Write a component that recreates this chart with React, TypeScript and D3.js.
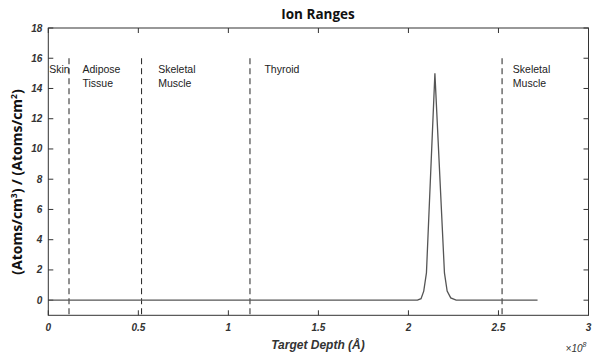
import React from "react";
import * as d3 from "d3";

const depth = [0, 2.05, 2.07, 2.085, 2.1, 2.147, 2.2, 2.215, 2.235, 2.265, 2.717]; // ×1e8 Å
const ratio = [0, 0, 0.1, 0.6, 1.8, 15, 1.8, 0.6, 0.15, 0, 0];
const boundaries = [0.115, 0.518, 1.12, 2.52];
const regionLabels = [
  { x: 0.005, lines: ["Skin"] },
  { x: 0.19, lines: ["Adipose", "Tissue"] },
  { x: 0.61, lines: ["Skeletal", "Muscle"] },
  { x: 1.2, lines: ["Thyroid"] },
  { x: 2.58, lines: ["Skeletal", "Muscle"] },
];
const xTicks = [0, 0.5, 1, 1.5, 2, 2.5, 3];
const yTicks = [0, 2, 4, 6, 8, 10, 12, 14, 16, 18];

export default function App() {
  const W = 598, H = 359;
  const L = 48.3, R = 588.5, T = 28, B = 315.3;
  const x = d3.scaleLinear().domain([0, 3]).range([L, R]);
  const y = d3.scaleLinear().domain([-1, 18]).range([B, T]);
  const line = d3.line<number>().x((_, i) => x(depth[i])).y((d) => y(d));
  const tickFont = "Liberation Sans, Arial, sans-serif";
  return (
    <svg width={W} height={H} style={{ position: "absolute", left: 0, top: 0, background: "#fff" }}>
      <rect x={0} y={0} width={W} height={H} fill="#fff" />
      <text x={318} y={19} textAnchor="middle" fontFamily="Open Sans, sans-serif" fontWeight="bold" fontSize={13.5} fill="#111">Ion Ranges</text>
      {xTicks.map((t) => (
        <g key={"xt" + t}>
          <line x1={x(t)} x2={x(t)} y1={B} y2={B - 5} stroke="#333" />
          <line x1={x(t)} x2={x(t)} y1={T} y2={T + 5} stroke="#333" />
          <text x={x(t)} y={B + 16} textAnchor="middle" fontFamily={tickFont} fontWeight="bold" fontStyle="italic" fontSize={10} fill="#333">{t}</text>
        </g>
      ))}
      {yTicks.map((t) => (
        <g key={"yt" + t}>
          <line x1={L} x2={L + 5} y1={y(t)} y2={y(t)} stroke="#333" />
          <line x1={R} x2={R - 5} y1={y(t)} y2={y(t)} stroke="#333" />
          <text x={L - 6} y={y(t) + 3.5} textAnchor="end" fontFamily={tickFont} fontWeight="bold" fontStyle="italic" fontSize={10} fill="#333">{t}</text>
        </g>
      ))}
      {boundaries.map((b) => (
        <line key={"b" + b} x1={x(b)} x2={x(b)} y1={y(16)} y2={B} stroke="#222" strokeWidth={1} strokeDasharray="6,4" />
      ))}
      {regionLabels.map((r) => (
        <text key={"r" + r.x} x={x(r.x)} y={y(15.0)} fontFamily={tickFont} fontSize={10.5} fill="#222">
          {r.lines.map((s, i) => (
            <tspan key={i} x={x(r.x)} dy={i === 0 ? 0 : 14}>{s}</tspan>
          ))}
        </text>
      ))}
      <path d={line(ratio) || ""} fill="none" stroke="#555" strokeWidth={1.3} />
      <rect x={L} y={T} width={R - L} height={B - T} fill="none" stroke="#333" strokeWidth={1} />
      <text x={318} y={349} textAnchor="middle" fontFamily={tickFont} fontWeight="bold" fontStyle="italic" fontSize={12} fill="#333">Target Depth (Å)</text>
      <text x={576} y={352} textAnchor="middle" fontFamily={tickFont} fontStyle="italic" fontSize={10} fill="#333">
        ×10<tspan dy={-5} fontSize={7}>8</tspan>
      </text>
      <text transform={`translate(22,182) rotate(-90)`} textAnchor="middle" fontFamily="Open Sans, sans-serif" fontWeight="bold" fontSize={14} fill="#111">
        (Atoms/cm<tspan dy={-5} fontSize={8.5}>3</tspan><tspan dy={5}>) / (Atoms/cm</tspan><tspan dy={-5} fontSize={8.5}>2</tspan><tspan dy={5}>)</tspan>
      </text>
    </svg>
  );
}
